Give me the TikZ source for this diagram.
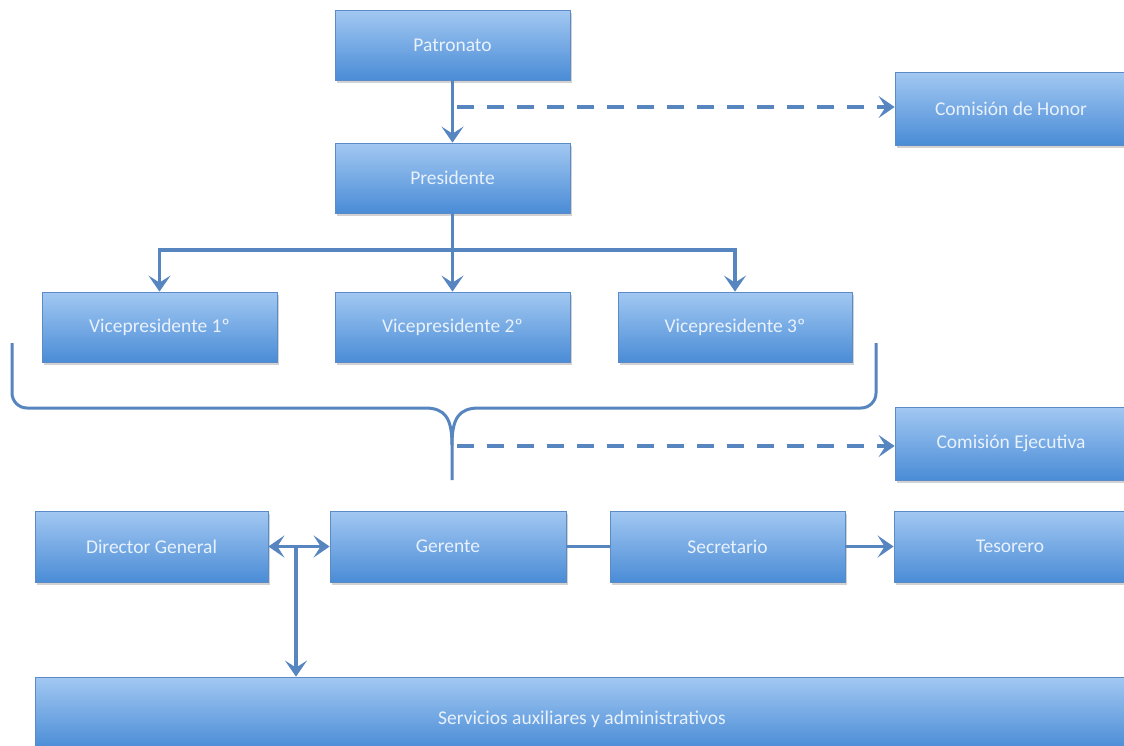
\documentclass[tikz,border=0pt]{standalone}
\usepackage{fontspec}
\setmainfont{Carlito}
\usetikzlibrary{arrows.meta,shadows,calc}
\definecolor{boxtop}{HTML}{A2C8F2}
\definecolor{boxbot}{HTML}{4A8CD6}
\definecolor{boxline}{HTML}{5A8BC6}
\definecolor{conn}{HTML}{5785C0}
\definecolor{txt}{HTML}{E8F1FC}
\tikzset{
  orgbox/.style={draw=boxline, line width=0.8pt, top color=boxtop, bottom color=boxbot,
    minimum height=70pt, minimum width=235pt, inner sep=0pt,
    text=txt, font=\fontsize{19.5}{22}\selectfont,
    drop shadow={shadow xshift=1.5pt, shadow yshift=-2.5pt, opacity=0.35, fill=gray}},
  link/.style={draw=conn, line width=3.5pt},
  tip/.tip={Stealth[length=16pt,width=22pt,inset=7pt]},
  arr/.style={link, -tip},
  darr/.style={link, tip-tip},
  dash link/.style={link, dash pattern=on 17pt off 13pt},
}
\begin{document}
\begin{tikzpicture}[x=1pt,y=-1pt]
\useasboundingbox (0,0) rectangle (1124,745);
\clip (0,0) rectangle (1124,745);
\fill[white] (0,0) rectangle (1124,745);
% nodes
\node[orgbox] (pat) at (452.5,45) {Patronato};
\node[orgbox] (pres) at (452.5,178) {Presidente};
\node[orgbox, minimum width=232pt, minimum height=73pt] (hon) at (1011,108.5) {Comisión de Honor};
\node[orgbox] (v1) at (159.5,327) {Vicepresidente 1º};
\node[orgbox] (v2) at (452.5,327) {Vicepresidente 2º};
\node[orgbox, minimum width=234pt] (v3) at (735,327) {Vicepresidente 3º};
\node[orgbox, minimum width=232pt, minimum height=73pt] (ejec) at (1011,443.5) {Comisión Ejecutiva};
\node[orgbox, minimum width=233pt, minimum height=71pt] (dg) at (151.5,546.5) {Director General};
\node[orgbox, minimum width=236pt, minimum height=71pt] (ger) at (448,546.5) {Gerente};
\node[orgbox, minimum width=235pt, minimum height=71pt] (sec) at (727.5,546.5) {Secretario};
\node[orgbox, minimum width=232pt, minimum height=71pt] (tes) at (1010,546.5) {Tesorero};
\node[orgbox, minimum width=1094pt, minimum height=72pt] (serv) at (582,713) {\raisebox{-11pt}[0pt][0pt]{Servicios auxiliares y administrativos}};
% connectors
\draw[arr] (pat.south) -- (pres.north);
\coordinate (h0) at (457,107);
\draw[dash link, -tip] (h0) -- (h0 -| hon.west);
\coordinate (bus) at (452.5,250);
\draw[link] (pres.south) -- (bus);
\draw[arr] (bus) -- (v2.north);
\draw[arr] (bus) -| (v1.north);
\draw[arr] (bus) -| (v3.north);
% brace
\coordinate (tip) at (452,480);
\draw[link, line width=3pt, line join=round]
  (12,343) -- (12,393) arc[start angle=180, end angle=90, radius=15] -- (425,408)
  .. controls (445,408) and (452,418) .. (452,445) -- (tip);
\draw[link, line width=3pt, line join=round]
  (876,343) -- (876,393) arc[start angle=0, end angle=90, radius=15] -- (479,408)
  .. controls (459,408) and (452,418) .. (452,445);
\coordinate (e0) at (457,446);
\draw[dash link, -tip] (e0) -- (e0 -| ejec.west);
% bottom row
\draw[darr] (dg.east) -- (ger.west);
\coordinate (j) at (296,546.5);
\draw[arr] (j) -- (j |- serv.north);
\draw[link] (ger.east) -- (sec.west);
\draw[arr] (sec.east) -- (tes.west);
\end{tikzpicture}
\end{document}
